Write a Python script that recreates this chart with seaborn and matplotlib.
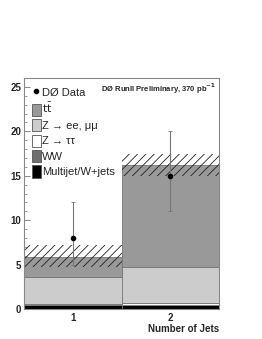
import numpy as np
import pandas as pd
import matplotlib
matplotlib.use("Agg")
import matplotlib.pyplot as plt
from matplotlib.patches import Patch
from matplotlib.lines import Line2D
from matplotlib.ticker import MultipleLocator
import seaborn as sns

# jet bins
njets = [1, 2]
bin_edges = [0.5, 1.5, 2.5]

# expected backgrounds / signal per bin (stack bottom -> top: multijet, WW, Ztautau, Zee, ttbar)
processes = [r"$\mathrm{t\bar{t}}$", "Z → ee, μμ", "Z → ττ", "WW", "Multijet/W+jets"]
ttbar = [2.3, 11.5]
zee = [3.0, 4.1]
ztautau = [0.05, 0.2]
ww = [0.15, 0.05]
multijet = [0.4, 0.4]
colors = ["#999999", "#cccccc", "#ffffff", "#6e6e6e", "#000000"]

# systematic band on total prediction
band_lo = [4.7, 15.0]
band_hi = [7.2, 17.5]

# data
data_y = [8, 15]
data_lo = [5, 11]
data_hi = [12, 20]

rows = []
for name, vals in zip(processes, [ttbar, zee, ztautau, ww, multijet]):
    for nj, v in zip(njets, vals):
        rows.append({"nj": nj, "process": name, "w": v})
df = pd.DataFrame(rows)

sns.set_style("ticks")
plt.rcParams["font.family"] = ["Liberation Sans", "DejaVu Sans"]
plt.rcParams["hatch.linewidth"] = 0.6

fig = plt.figure(figsize=(2.62, 3.39), dpi=100)
ax = fig.add_axes([24 / 262, 1 - 309 / 339, 195 / 262, 231 / 339])

sns.histplot(data=df, x="nj", weights="w", hue="process", hue_order=processes,
             multiple="stack", bins=bin_edges, palette=colors, alpha=1,
             edgecolor="#777777", linewidth=0.6, legend=False, ax=ax)

centers = np.array(njets)
lo = np.array(band_lo)
hi = np.array(band_hi)
ax.bar(centers, hi - lo, bottom=lo, width=1.0, fill=False, hatch="////",
       edgecolor="#222222", linewidth=0)

y = np.array(data_y)
ax.errorbar(centers, y, yerr=[y - np.array(data_lo), np.array(data_hi) - y],
            fmt="o", color="black", ms=3, ecolor="#777777", elinewidth=0.8,
            capsize=1.5, capthick=0.6)

ax.set_xlim(0.5, 2.5)
ax.set_ylim(0, 26)
ax.set_xticks([1, 2])
ax.yaxis.set_major_locator(MultipleLocator(5))
ax.yaxis.set_minor_locator(MultipleLocator(1))
ax.tick_params(axis="y", which="major", direction="in", length=4, width=0.6,
               labelsize=7, color="#777777", pad=2)
ax.tick_params(axis="y", which="minor", direction="in", length=2, width=0.5, color="#777777")
ax.tick_params(axis="x", length=0, labelsize=7, pad=3)
for lab in ax.get_xticklabels() + ax.get_yticklabels():
    lab.set_fontweight("bold")
for sp in ax.spines.values():
    sp.set_visible(True)
    sp.set_color("#888888")
    sp.set_linewidth(0.8)

ax.set_ylabel("")
ax.set_xlabel("Number of Jets", fontsize=7, fontweight="bold")
ax.xaxis.set_label_coords(1.0, -0.065)
ax.xaxis.label.set_horizontalalignment("right")

ax.text(0.985, 0.985, r"DØ RunII Preliminary, 370 pb$^{\mathbf{-1}}$", transform=ax.transAxes,
        ha="right", va="top", fontsize=5.5, fontweight="bold")

handles = [Line2D([], [], marker="o", color="black", ls="none", ms=3)]
for c in colors:
    handles.append(Patch(facecolor=c, edgecolor="#555555", linewidth=0.6))
ax.legend(handles, ["DØ Data"] + processes, loc="upper left", frameon=False,
          fontsize=8, handlelength=0.8, handleheight=1.3, handletextpad=0.15,
          labelspacing=0.3, borderaxespad=0.3, bbox_to_anchor=(0.0, 1.0))

fig.savefig("out.png", dpi=100)
